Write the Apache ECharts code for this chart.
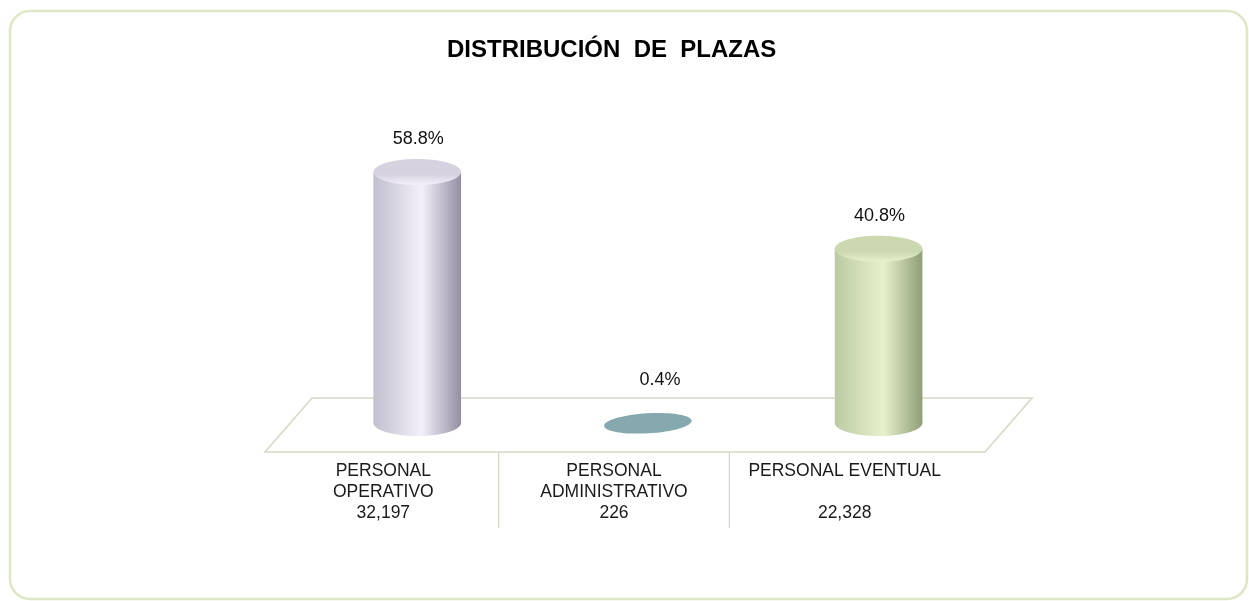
<!DOCTYPE html>
<html>
<head>
<meta charset="utf-8">
<title>Distribución de plazas</title>
<script src="https://cdn.jsdelivr.net/npm/echarts@6/dist/echarts.min.js"></script>
<style>
  html, body { margin: 0; padding: 0; background: #ffffff; }
  #chart { width: 1249px; height: 601px; }
</style>
</head>
<body>
<div id="chart"></div>
<script>
// Categories, headcount and share of each category
const categories = ['PERSONAL\nOPERATIVO', 'PERSONAL\nADMINISTRATIVO', 'PERSONAL EVENTUAL\n'];
const plazas = [32197, 226, 22328];
const percentages = [58.8, 0.4, 40.8];

// Cylinder colours: [left edge, highlight, right edge, top cap]
const palettes = [
  ['#c2bfce', '#f3f0fb', '#938fa2', '#d6d2e0'],
  ['#86a9b0', '#86a9b0', '#86a9b0', '#86a9b0'],
  ['#bccaa4', '#e6f2cb', '#909e78', '#cbd8b0']
];

const FONT = 'Liberation Sans, Arial, sans-serif';

function fmt(n) {
  return n.toString().replace(/\B(?=(\d{3})+(?!\d))/g, ',');
}

const chart = echarts.init(document.getElementById('chart'));

// Floor plane and separators under the category labels
function renderFloor(params, api) {
  const band = api.size([1, 0])[0];
  const base = api.coord([0, 0]);
  const left = base[0] - band / 2;
  const right = left + band * categories.length;
  const y0 = base[1];
  const frontY = y0 + 29, backY = y0 - 25;
  const children = [{
    type: 'polygon',
    shape: { points: [[left - 3, frontY], [right + 25, frontY], [right + 72, backY], [left + 44, backY]] },
    style: { fill: '#ffffff', stroke: '#d6dac6', lineWidth: 1.6 }
  }];
  for (let i = 1; i < categories.length; i++) {
    const x = left + band * i;
    children.push({
      type: 'line',
      shape: { x1: x, y1: frontY, x2: x, y2: frontY + 76 },
      style: { stroke: '#d6dac6', lineWidth: 1.3 }
    });
  }
  return { type: 'group', children: children };
}

// One cylinder per category
function renderCylinder(params, api) {
  const idx = api.value(0);
  const val = api.value(1);
  const band = api.size([1, 0])[0];
  const p0 = api.coord([idx, 0]);
  const p1 = api.coord([idx, val]);
  const cx = p0[0] + band * 0.147;
  const rx = band * 0.19;
  const ry = 13;
  const pal = palettes[idx];
  const grad = new echarts.graphic.LinearGradient(0, 0, 1, 0, [
    { offset: 0, color: pal[0] },
    { offset: 0.55, color: pal[1] },
    { offset: 1, color: pal[2] }
  ]);
  const capGrad = new echarts.graphic.LinearGradient(0, 0, 0, 1, [
    { offset: 0, color: pal[3] },
    { offset: 0.6, color: pal[3] },
    { offset: 1, color: pal[1] }
  ]);
  const flat = (p0[1] - p1[1]) < 4;
  const children = [];
  if (flat) {
    children.push({
      type: 'ellipse',
      shape: { cx: cx, cy: p1[1] + 2, rx: rx, ry: 10 },
      rotation: 0.06,
      originX: cx, originY: p1[1] + 2,
      style: { fill: pal[3] }
    });
  } else {
    children.push({
      type: 'ellipse',
      shape: { cx: cx, cy: p0[1], rx: rx, ry: ry },
      style: { fill: grad }
    });
    children.push({
      type: 'rect',
      shape: { x: cx - rx, y: p1[1], width: rx * 2, height: p0[1] - p1[1] },
      style: { fill: grad }
    });
    children.push({
      type: 'ellipse',
      shape: { cx: cx, cy: p1[1], rx: rx, ry: ry },
      style: { fill: capGrad }
    });
  }
  children.push({
    type: 'text',
    style: {
      text: val.toFixed(1) + '%',
      x: cx + (flat ? 12 : 1),
      y: p1[1] - (flat ? 41 : 33),
      align: 'center',
      verticalAlign: 'middle',
      fill: '#111111',
      font: '18px ' + FONT
    }
  });
  return { type: 'group', children: children };
}

chart.setOption({
  backgroundColor: '#ffffff',
  animation: false,
  title: {
    text: 'DISTRIBUCIÓN  DE  PLAZAS',
    left: 442,
    top: 33,
    textStyle: { fontFamily: FONT, fontSize: 24, fontWeight: 'bold', color: '#000000' }
  },
  graphic: [{
    type: 'rect',
    shape: { x: 10, y: 11, width: 1237, height: 588, r: 20 },
    style: { fill: 'none', stroke: '#dde7c6', lineWidth: 2.5 },
    z: -10
  }],
  grid: { left: 268, right: 289, top: 60, bottom: 178 },
  xAxis: {
    type: 'category',
    data: categories,
    axisLine: { show: false },
    axisTick: { show: false },
    axisLabel: {
      margin: 38,
      interval: 0,
      fontFamily: FONT,
      fontSize: 17.5,
      lineHeight: 21,
      color: '#1a1a1a',
      formatter: function (v, i) { return v + '\n' + fmt(plazas[i]); }
    }
  },
  yAxis: {
    type: 'value',
    min: 0,
    max: 85,
    show: false,
    splitLine: { show: false }
  },
  series: [
    {
      type: 'custom',
      renderItem: renderFloor,
      data: [[0, 0]],
      z: 1,
      silent: true
    },
    {
      type: 'custom',
      renderItem: renderCylinder,
      data: percentages.map(function (p, i) { return [i, p]; }),
      z: 5
    }
  ]
});
</script>
</body>
</html>
